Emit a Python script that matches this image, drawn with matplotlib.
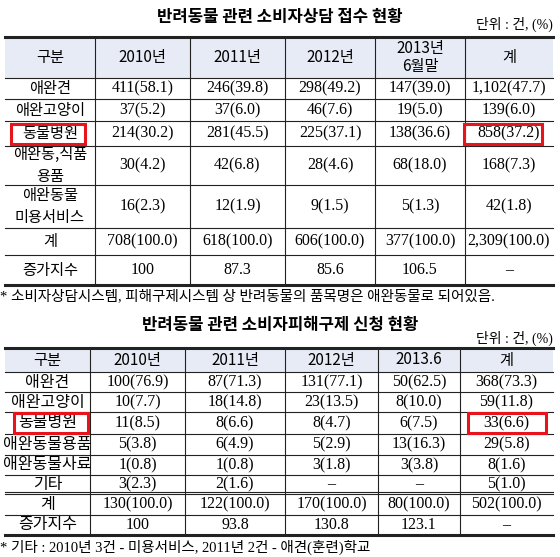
import matplotlib
matplotlib.use("Agg")
import matplotlib.pyplot as plt
from matplotlib.patches import Rectangle

KR = ['Noto Sans CJK KR', 'DejaVu Sans']
NUM = ['Liberation Serif', 'Noto Sans CJK KR', 'DejaVu Sans']

title1 = "반려동물 관련 소비자상담 접수 현황"
head1 = ["구분", "2010년", "2011년", "2012년", "2013년\n6월말", "계"]
rows1 = ["애완견", "애완고양이", "동물병원", "애완동,식품\n용품", "애완동물\n미용서비스", "계", "증가지수"]
c2010_1 = ["411(58.1)", "37(5.2)", "214(30.2)", "30(4.2)", "16(2.3)", "708(100.0)", "100"]
c2011_1 = ["246(39.8)", "37(6.0)", "281(45.5)", "42(6.8)", "12(1.9)", "618(100.0)", "87.3"]
c2012_1 = ["298(49.2)", "46(7.6)", "225(37.1)", "28(4.6)", "9(1.5)", "606(100.0)", "85.6"]
c2013_1 = ["147(39.0)", "19(5.0)", "138(36.6)", "68(18.0)", "5(1.3)", "377(100.0)", "106.5"]
tot_1 = ["1,102(47.7)", "139(6.0)", "858(37.2)", "168(7.3)", "42(1.8)", "2,309(100.0)", "–"]
note1 = "* 소비자상담시스템, 피해구제시스템 상 반려동물의 품목명은 애완동물로 되어있음."

title2 = "반려동물 관련 소비자피해구제 신청 현황"
head2 = ["구분", "2010년", "2011년", "2012년", "2013.6", "계"]
rows2 = ["애완견", "애완고양이", "동물병원", "애완동물용품", "애완동물사료", "기타", "계", "증가지수"]
c2010_2 = ["100(76.9)", "10(7.7)", "11(8.5)", "5(3.8)", "1(0.8)", "3(2.3)", "130(100.0)", "100"]
c2011_2 = ["87(71.3)", "18(14.8)", "8(6.6)", "6(4.9)", "1(0.8)", "2(1.6)", "122(100.0)", "93.8"]
c2012_2 = ["131(77.1)", "23(13.5)", "8(4.7)", "5(2.9)", "3(1.8)", "–", "170(100.0)", "130.8"]
c2013_2 = ["50(62.5)", "8(10.0)", "6(7.5)", "13(16.3)", "3(3.8)", "–", "80(100.0)", "123.1"]
tot_2 = ["368(73.3)", "59(11.8)", "33(6.6)", "29(5.8)", "8(1.6)", "5(1.0)", "502(100.0)", "–"]
note2 = "* 기타 : 2010년 3건 - 미용서비스, 2011년 2건 - 애견(훈련)학교"
unit = "단위 : 건, (%)"

fig = plt.figure(figsize=(5.6, 5.57), dpi=100)
ax = fig.add_axes([0, 0, 1, 1])
ax.set_xlim(0, 560); ax.set_ylim(557, 0); ax.axis('off')
HEAD_BG = '#e6ebf5'

def table(xs, ys, head, rows, cols, thick_rows, double_row, hfs=11, rfs=11):
    ax.add_patch(Rectangle((xs[0], ys[0]), xs[-1]-xs[0], ys[1]-ys[0], color=HEAD_BG, lw=0, zorder=0))
    for y in ys:
        lw = 2.2 if y in thick_rows else 0.8
        ax.plot([xs[0], xs[-1]], [y, y], color='#222', lw=lw, zorder=2)
    if double_row is not None:
        ax.plot([xs[0], xs[-1]], [double_row-2.5]*2, color='#222', lw=0.8, zorder=2)
    for x in xs[1:-1]:
        ax.plot([x, x], [ys[0], ys[-1]], color='#222', lw=0.8, zorder=2)
    for j, h in enumerate(head):
        ax.text((xs[j]+xs[j+1])/2, (ys[0]+ys[1])/2, h, ha='center', va='center',
                fontsize=hfs, family=KR, linespacing=1.0)
    for i, r in enumerate(rows):
        yc = (ys[i+1]+ys[i+2])/2
        ax.text((xs[0]+xs[1])/2, yc, r, ha='center', va='center', fontsize=rfs, family=KR, linespacing=1.45)
        for j, col in enumerate(cols):
            ax.text((xs[j+1]+xs[j+2])/2, yc, col[i], ha='center', va='center', fontsize=11.5, family=NUM)

xs1 = [5, 95, 190, 285, 375, 465, 553]
ys1 = [37, 78, 99, 121, 146, 185, 228, 255, 285]
table(xs1, ys1, head1, rows1, [c2010_1, c2011_1, c2012_1, c2013_1, tot_1], [37, 285], None)
ax.add_patch(Rectangle((11, 124), 74, 20, fill=False, ec='#e8141c', lw=2.2, zorder=3))
ax.add_patch(Rectangle((464, 124), 78, 20, fill=False, ec='#e8141c', lw=2.2, zorder=3))

xs2 = [5, 90, 185, 285, 378, 460, 553]
ys2 = [348, 372, 392, 412, 434, 455, 475, 494, 515, 535]
table(xs2, ys2, head2, rows2, [c2010_2, c2011_2, c2012_2, c2013_2, tot_2], [348, 535], 494, rfs=11.5)
ax.add_patch(Rectangle((14, 413), 74, 20, fill=False, ec='#e8141c', lw=2.2, zorder=3))
ax.add_patch(Rectangle((468, 413), 78, 20, fill=False, ec='#e8141c', lw=2.2, zorder=3))

ax.text(280, 17, title1, ha='center', va='center', fontsize=12, fontweight='bold', family=KR)
ax.text(553, 24, unit, ha='right', va='center', fontsize=10, family=NUM)
ax.text(0, 296, note1, ha='left', va='center', fontsize=10.5, family=NUM)
ax.text(280, 325, title2, ha='center', va='center', fontsize=12, fontweight='bold', family=KR)
ax.text(553, 338, unit, ha='right', va='center', fontsize=10, family=NUM)
ax.text(0, 547, note2, ha='left', va='center', fontsize=10.5, family=NUM)

fig.savefig("out.png", dpi=100)
